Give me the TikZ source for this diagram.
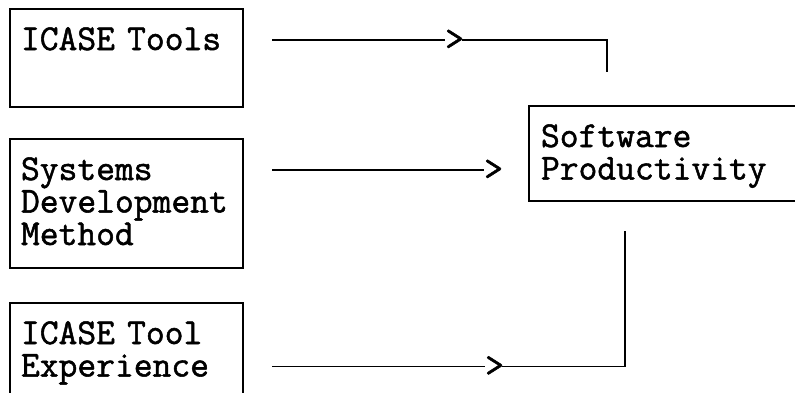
\documentclass[tikz,border=0pt]{standalone}
\usepackage{fontspec}
\usepackage{tikz}
\usetikzlibrary{calc, positioning}
\newfontfamily\typewriter{Latin Modern Mono}[FakeBold=1.4]
\newcommand{\boxtype}{\typewriter\bfseries\fontsize{36.5pt}{32.5pt}\selectfont}

\begin{document}
\begin{tikzpicture}[
        x=1pt, y=-1pt,
        box/.style = {draw, rectangle, line width=2pt, inner xsep=11pt, inner ysep=0pt, text width=211pt, text height=41pt, align=left, font=\boxtype},
        tip/.style = {inner sep=0pt, text height=20pt, text depth=0pt, font=\boxtype},
        link/.style = {draw=black, line width=1.8pt}
    ]
        \useasboundingbox (0,0) rectangle (795,392);
        \clip (0,0) rectangle (795,392);

        \node (tools) [box, text depth=57pt, anchor=north west] at (9,8) {ICASE Tools};
        \node (method) [box, text depth=88pt, below=30pt of tools] {Systems\\Development\\Method};
        \node (exper) [box, text depth=100pt, below=33pt of method] {ICASE Tool\\Experience};
        \node (prod) [box, text width=300pt, text depth=54pt, inner xsep=12pt, anchor=north west] at (528,105) {Software\\Productivity};

        % typed arrow heads
        \node (gt1) [tip, anchor=base west] at ([xshift=201pt]tools.base east) {>};
        \node (gt2) [tip, anchor=base west] at ([xshift=240pt]method.base east) {>};
        \node (gt3) [tip, anchor=base west] at ([xshift=241pt, yshift=-32.5pt]exper.base east) {>};

        \coordinate (in1) at ($(tools.east |- gt1) + (28,0)$);
        \coordinate (in2) at ($(method.east |- gt2) + (28,0)$);
        \coordinate (in3) at ($(exper.east |- gt3) + (28,0)$);
        \coordinate (out1) at ($(prod.north west) + (79,-33)$);
        \coordinate (out3) at ($(prod.south west) + (97,29)$);

        \draw [link] (in1) -- (gt1);
        \draw [link, shorten <=-2pt] (gt1) -| (out1);
        \draw [link] (in2) -- (gt2);
        \draw [link] (in3) -- (gt3);
        \draw [link, shorten <=-2pt] (gt3) -| (out3);

    \end{tikzpicture}
\end{document}
